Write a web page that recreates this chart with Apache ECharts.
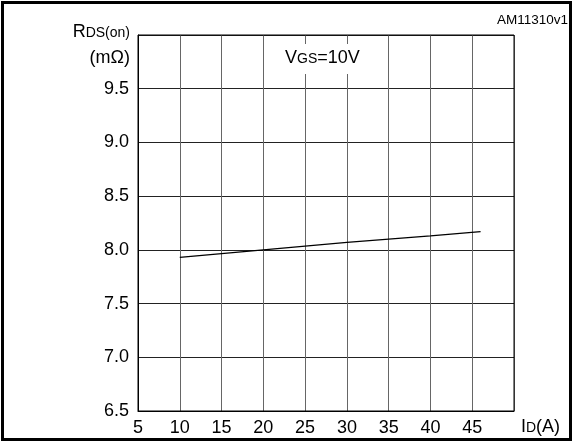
<!DOCTYPE html>
<html>
<head>
<meta charset="utf-8">
<script src="https://cdn.jsdelivr.net/npm/echarts@6/dist/echarts.min.js"></script>
<style>
  html, body { margin: 0; padding: 0; background: #fff; }
  #chart { width: 574px; height: 443px; }
</style>
</head>
<body>
<div id="chart"></div>
<script>
// Drain current I_D (A) and on-state resistance R_DS(on) (mΩ) at V_GS = 10 V
var drainCurrent = [10, 20, 30, 40, 46];
var rdsOn = [7.93, 8.00, 8.07, 8.13, 8.17];

// Axis ranges and ticks
var xTicks = [5, 10, 15, 20, 25, 30, 35, 40, 45, 50];
var yTicks = [6.5, 7.0, 7.5, 8.0, 8.5, 9.0, 9.5, 10.0];

var font = '"Liberation Sans", Arial, Helvetica, sans-serif';

var chart = echarts.init(document.getElementById('chart'), null, { renderer: 'canvas' });

var option = {
  animation: false,
  backgroundColor: '#fff',
  grid: {
    left: 138, top: 35, right: 60, bottom: 32,
    show: false
  },
  xAxis: {
    type: 'value',
    min: xTicks[0], max: xTicks[xTicks.length - 1], interval: 5,
    axisLine: { show: true, onZero: false, lineStyle: { color: '#000', width: 1 } },
    axisTick: { show: false },
    axisLabel: {
      color: '#000', fontFamily: font, fontSize: 18, margin: 8,
      showMaxLabel: false,
      formatter: function (v) { return String(v); }
    },
    splitLine: { show: true, lineStyle: { color: '#666', width: 1 } }
  },
  yAxis: {
    type: 'value',
    min: yTicks[0], max: yTicks[yTicks.length - 1], interval: 0.5,
    axisLine: { show: true, onZero: false, lineStyle: { color: '#000', width: 1 } },
    axisTick: { show: false },
    axisLabel: {
      color: '#000', fontFamily: font, fontSize: 18, margin: 9,
      showMaxLabel: false,
      formatter: function (v) { return v.toFixed(1); }
    },
    splitLine: { show: true, lineStyle: { color: '#222', width: 1 } }
  },
  series: [{
    type: 'line',
    data: drainCurrent.map(function (x, i) { return [x, rdsOn[i]]; }),
    showSymbol: false,
    lineStyle: { color: '#000', width: 1.3 },
    z: 5
  }],
  graphic: [
    // outer frame
    {
      type: 'rect', z: 100,
      shape: { x: 2.5, y: 2.5, width: 568, height: 437 },
      style: { fill: null, stroke: '#000', lineWidth: 3 }
    },
    // plot frame (top and right edges)
    {
      type: 'rect', z: 50,
      shape: { x: 138, y: 35, width: 376, height: 376 },
      style: { fill: null, stroke: '#000', lineWidth: 1 }
    },
    // condition label with white backing
    {
      type: 'rect', z: 60,
      shape: { x: 276, y: 44, width: 108, height: 30 },
      style: { fill: '#fff', stroke: null }
    },
    {
      type: 'text', z: 61, left: 285, top: 49,
      style: {
        text: '{b|V}{s|GS}{b|=10V}',
        rich: {
          b: { fontFamily: font, fontSize: 18, fill: '#000' },
          s: { fontFamily: font, fontSize: 14, fill: '#000', padding: [3, 0, 0, 0] }
        }
      }
    },
    // y axis title
    {
      type: 'text', z: 61, right: 574 - 130, top: 23,
      style: {
        text: '{b|R}{s|DS(on)}',
        align: 'right',
        rich: {
          b: { fontFamily: font, fontSize: 18, fill: '#000' },
          s: { fontFamily: font, fontSize: 14, fill: '#000', padding: [3, 0, 0, 0] }
        }
      }
    },
    {
      type: 'text', z: 61, right: 574 - 130, top: 49,
      style: { text: '(mΩ)', fontFamily: font, fontSize: 18, fill: '#000', align: 'right' }
    },
    // x axis title
    {
      type: 'text', z: 61, left: 521, top: 418,
      style: {
        text: '{b|I}{s|D}{b|(A)}',
        rich: {
          b: { fontFamily: font, fontSize: 18, fill: '#000' },
          s: { fontFamily: font, fontSize: 14, fill: '#000', padding: [3, 0, 0, 0] }
        }
      }
    },
    // figure code
    {
      type: 'text', z: 61, right: 6, top: 13,
      style: { text: 'AM11310v1', fontFamily: font, fontSize: 13.5, fill: '#000' }
    }
  ]
};

chart.setOption(option);
</script>
</body>
</html>
